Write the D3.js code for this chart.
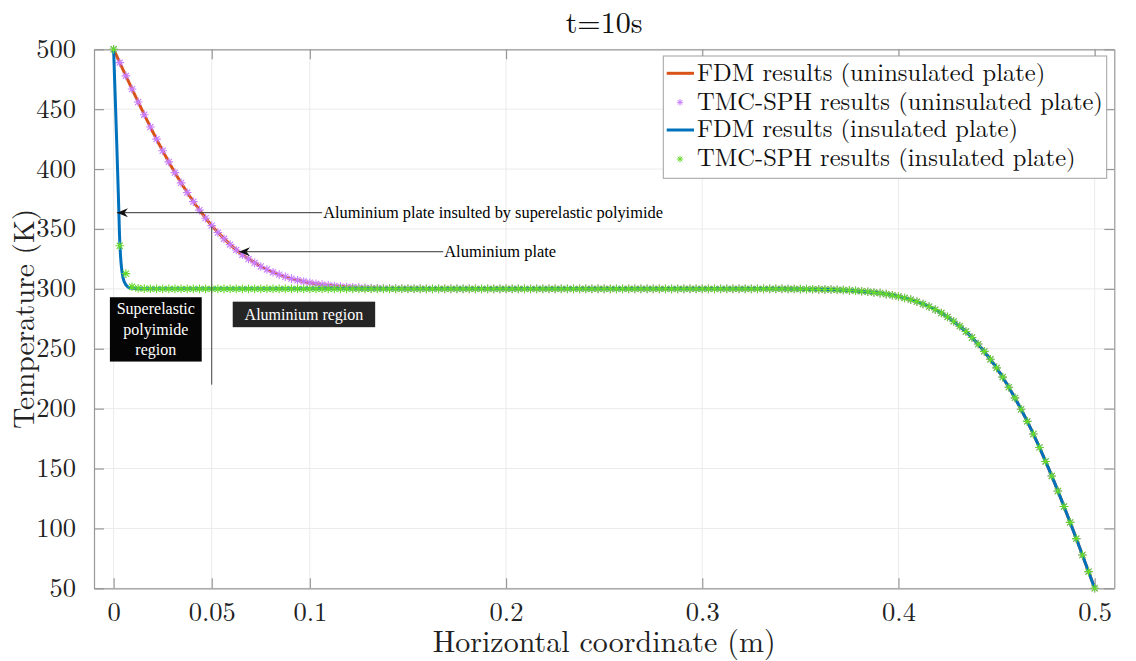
<!DOCTYPE html>
<html><head><meta charset="utf-8">
<script src="https://cdn.jsdelivr.net/npm/d3@7"></script>
<style>
html,body{margin:0;padding:0;background:#fff;}
svg{display:block;}
</style></head>
<body>
<svg id="chart" width="1136" height="661"></svg>
<script>
// ---------------- DATA ----------------
const xTicks = [0, 0.05, 0.1, 0.2, 0.3, 0.4, 0.5];
const xTickLabels = ["0", "0.05", "0.1", "0.2", "0.3", "0.4", "0.5"];
const yTicks = [50, 100, 150, 200, 250, 300, 350, 400, 450, 500];

const seriesNames = [
  "FDM results (uninsulated plate)",
  "TMC-SPH results (uninsulated plate)",
  "FDM results (insulated plate)",
  "TMC-SPH results (insulated plate)"
];

// FDM, uninsulated plate
const fdmUnX = [0,0.005,0.01,0.015,0.02,0.025,0.03,0.035,0.04,0.045,0.05,0.055,0.06,0.065,0.07,0.075,0.08,0.085,0.09,0.095,0.1,0.105,0.11,0.115,0.12,0.125,0.13,0.14,0.15,0.16,0.2,0.25,0.3,0.34,0.35,0.36,0.37,0.375,0.38,0.385,0.39,0.395,0.4,0.405,0.41,0.415,0.42,0.425,0.43,0.435,0.44,0.445,0.45,0.455,0.46,0.465,0.47,0.475,0.48,0.485,0.49,0.495,0.5];
const fdmUnT = [500,482.2,464.6,447.5,431,415.3,400.5,386.9,374.4,363.1,352.8,344,336.1,329.2,323.8,318.8,314.8,311.5,308.8,306.7,305.1,303.8,302.8,302.1,301.5,301.1,300.7,300.3,300.1,300,300,300,300,300,299.8,299.6,299.1,298.6,298.1,297.4,296.5,295.3,293.7,291.6,289,285.7,281.6,276.5,270.3,263.5,254.9,245,234,221.2,207,191.4,174.4,155.9,136.3,115.6,94.3,72.2,50];

// FDM, insulated plate
const fdmInX = [0,0.0005,0.001,0.0015,0.002,0.0025,0.003,0.0035,0.004,0.0045,0.005,0.006,0.007,0.008,0.01,0.012,0.015,0.05,0.1,0.2,0.3,0.34,0.35,0.36,0.37,0.375,0.38,0.385,0.39,0.395,0.4,0.405,0.41,0.415,0.42,0.425,0.43,0.435,0.44,0.445,0.45,0.455,0.46,0.465,0.47,0.475,0.48,0.485,0.49,0.495,0.5];
const fdmInT = [500,475,451,426,400,374,345,328,318,312,308,304,302,301,300.4,300.1,300,300,300,300,300,300,299.8,299.6,299.1,298.6,298.1,297.4,296.5,295.3,293.7,291.6,289,285.7,281.6,276.5,270.3,263.5,254.9,245,234,221.2,207,191.4,174.4,155.9,136.3,115.6,94.3,72.2,50];

// TMC-SPH particles (uniform particle spacing along the plate)
const sphSpacing = 0.003125;
const sphUnT = [
  500,488.9,477.8,466.8,456.0,445.4,435.1,425.0,415.3,406.0,
  397.0,388.5,380.4,372.8,365.7,359.0,352.8,347.0,341.8,336.9,
  332.5,328.5,324.9,321.7,318.7,316.2,313.9,311.9,310.1,308.5,
  307.2,306.1,305.1,304.2,303.5,302.9,302.4,301.9,301.6,301.3,
  301.0,300.8,300.6,300.5,300.4,300.3,300.2,300.2,300.1,300.1,
  300.1,
  300,300,300,300,300,300,300,300,300,300,
  300,300,300,300,300,300,300,300,300,300,
  300,300,300,300,300,300,300,300,300,300,
  300,300,300,300,300,300,300,300,300,300,
  300,300,300,300,300,300,300,300,300,300,
  300,300,300,300,300,300,300,300,300,
  299.9,299.9,299.8,299.8,299.7,299.6,299.5,299.4,299.2,299.0,
  298.7,298.4,298.0,297.6,297.0,296.4,295.6,294.7,293.6,292.4,
  291.0,289.3,287.4,285.2,282.7,279.8,276.6,272.9,268.9,264.4,
  259.4,253.9,247.8,241.2,234.0,226.3,217.9,209.0,199.5,189.4,
  178.8,167.6,155.9,143.8,131.2,118.3,105.0,91.5,77.8,63.9,
  50
];
const sphInT = [
  500,336,312.7,301.8,300.5,300.2,300.1,
  300,300,300,300,300,300,300,300,300,300,
  300,300,300,300,300,300,300,300,300,300,
  300,300,300,300,300,300,300,300,300,300,
  300,300,300,300,300,300,300,300,300,300,
  300,300,300,300,300,300,300,300,300,300,
  300,300,300,300,300,300,300,300,300,300,
  300,300,300,300,300,300,300,300,300,300,
  300,300,300,300,300,300,300,300,300,300,
  300,300,300,300,300,300,300,300,300,300,
  300,300,300,300,300,300,300,300,300,300,
  300,300,300,
  299.9,299.9,299.8,299.8,299.7,299.6,299.5,299.4,299.2,299.0,
  298.7,298.4,298.0,297.6,297.0,296.4,295.6,294.7,293.6,292.4,
  291.0,289.3,287.4,285.2,282.7,279.8,276.6,272.9,268.9,264.4,
  259.4,253.9,247.8,241.2,234.0,226.3,217.9,209.0,199.5,189.4,
  178.8,167.6,155.9,143.8,131.2,118.3,105.0,91.5,77.8,63.9,
  50
];

// annotation texts and anchors (data coordinates)
const arrowTexts = ["Aluminium plate insulted by superelastic polyimide", "Aluminium plate"];
const arrowFrom = [[0.1063, 363.6], [0.168, 331]];
const arrowTo = [[0.0017, 363.6], [0.0639, 331]];
const markerLine = [[0.05, 352], [0.05, 220]];
const boxLines = [["Superelastic", "polyimide", "region"], ["Aluminium region"]];
const boxCorners = [[[-0.0019, 293], [0.0449, 239.3]], [[0.0607, 289.3], [0.1333, 268]]];

// ---------------- CHART ----------------
const W = 1136, H = 661;
const M = {left: 94, top: 49.3, right: 1136 - 1114.3, bottom: 661 - 588.3};
const svg = d3.select("#chart");
const CM = '"Latin Modern Roman", "CMU Serif", "Liberation Serif", serif';
const TIMES = '"Liberation Serif", "Times New Roman", serif';
const colors = {red: "#D95319", blue: "#0072BD", mag: "#c77dff", green: "#66d92a", axis: "#989898", grid: "#ebebeb"};

// scale a text's font size so that its width matches a target
function fit(sel, target) {
  sel.each(function() {
    const fs = parseFloat(this.getAttribute("font-size"));
    const w = this.getComputedTextLength();
    if (w > 0) this.setAttribute("font-size", (fs * target / w).toFixed(2));
  });
  return sel;
}

const x = d3.scaleLinear().domain([-0.01, 0.51]).range([M.left, W - M.right]);
const y = d3.scaleLinear().domain([50, 500]).range([H - M.bottom, M.top]);

// grid
const g = svg.append("g");
g.append("g").selectAll("line").data(xTicks).join("line")
  .attr("x1", d => x(d)).attr("x2", d => x(d)).attr("y1", y(50)).attr("y2", y(500))
  .attr("stroke", colors.grid).attr("stroke-width", 1);
g.append("g").selectAll("line").data(yTicks).join("line")
  .attr("y1", d => y(d)).attr("y2", d => y(d)).attr("x1", x(-0.01)).attr("x2", x(0.51))
  .attr("stroke", colors.grid).attr("stroke-width", 1);

// axes
const tickLen = 10;
const axB = d3.axisBottom(x).tickValues(xTicks).tickFormat((d, i) => xTickLabels[i]).tickSizeInner(-tickLen).tickSizeOuter(0).tickPadding(12);
const axT = d3.axisTop(x).tickValues(xTicks).tickFormat("").tickSizeInner(-tickLen).tickSizeOuter(0);
const axL = d3.axisLeft(y).tickValues(yTicks).tickSizeInner(-tickLen).tickSizeOuter(0).tickPadding(18);
const axR = d3.axisRight(y).tickValues(yTicks).tickFormat("").tickSizeInner(-tickLen).tickSizeOuter(0);

function styleAxis(sel) {
  sel.attr("font-family", null).attr("font-size", null);
  sel.selectAll("path.domain").attr("stroke", colors.axis).attr("stroke-width", 1.2);
  sel.selectAll(".tick line").attr("stroke", colors.axis).attr("stroke-width", 1.2);
  sel.selectAll(".tick text").style("font-family", CM).attr("font-size", 26.5).attr("fill", "#222");
}
svg.append("g").attr("transform", `translate(0,${y(50)})`).call(axB).call(styleAxis)
  .selectAll(".tick text").attr("dy", "0.8em");
svg.append("g").attr("transform", `translate(0,${y(500)})`).call(axT).call(styleAxis);
svg.append("g").attr("transform", `translate(${x(-0.01)},0)`).call(axL).call(styleAxis)
  .selectAll(".tick text").attr("dy", "0.3em");
svg.append("g").attr("transform", `translate(${x(0.51)},0)`).call(axR).call(styleAxis);

const plot = svg.append("g");

const line = d3.line().x(d => x(d[0])).y(d => y(d[1])).curve(d3.curveMonotoneX);
const starPath = r => {
  const k = r * 0.7071;
  return `M${-r},0H${r}M0,${-r}V${r}M${-k},${-k}L${k},${k}M${-k},${k}L${k},${-k}`;
};

const unFdm = fdmUnX.map((v, i) => [v, fdmUnT[i]]);
const inFdm = fdmInX.map((v, i) => [v, fdmInT[i]]);
const unSph = sphUnT.map((t, i) => [i * sphSpacing, t]);
const inSph = sphInT.map((t, i) => [i * sphSpacing, t]);

plot.append("path").datum(unFdm).attr("d", line).attr("fill", "none")
  .attr("stroke", colors.red).attr("stroke-width", 3);
plot.append("g").selectAll("path").data(unSph).join("path")
  .attr("transform", d => `translate(${x(d[0])},${y(d[1])})`)
  .attr("d", starPath(4.3)).attr("stroke", colors.mag).attr("stroke-width", 1.1).attr("fill", "none");
plot.append("path").datum(inFdm).attr("d", line).attr("fill", "none")
  .attr("stroke", colors.blue).attr("stroke-width", 3);
plot.append("g").selectAll("path").data(inSph).join("path")
  .attr("transform", d => `translate(${x(d[0])},${y(d[1])})`)
  .attr("d", starPath(4.3)).attr("stroke", colors.green).attr("stroke-width", 1.1).attr("fill", "none");

// ---------- annotations ----------
const defs = svg.append("defs");
defs.append("marker").attr("id", "ah").attr("viewBox", "-12 -6 14 12")
  .attr("markerWidth", 14).attr("markerHeight", 12).attr("refX", 0).attr("refY", 0)
  .attr("orient", "auto").attr("markerUnits", "userSpaceOnUse")
  .append("path").attr("d", "M0,0L-11,-4.5L-7.5,0L-11,4.5Z").attr("fill", "#111");

const annoSizes = [340, 112];
arrowTexts.forEach((t, i) => {
  svg.append("line")
    .attr("x1", x(arrowFrom[i][0])).attr("y1", y(arrowFrom[i][1]))
    .attr("x2", x(arrowTo[i][0])).attr("y2", y(arrowTo[i][1]))
    .attr("stroke", "#333").attr("stroke-width", 1).attr("marker-end", "url(#ah)");
  svg.append("text").attr("x", x(arrowFrom[i][0]) + 1).attr("y", y(arrowFrom[i][1]))
    .attr("dy", "0.32em").style("font-family", TIMES).attr("font-size", 15.5)
    .attr("fill", "#000").text(t).call(fit, annoSizes[i]);
});
svg.append("line")
  .attr("x1", x(markerLine[0][0])).attr("y1", y(markerLine[0][1]))
  .attr("x2", x(markerLine[1][0])).attr("y2", y(markerLine[1][1]))
  .attr("stroke", "#444").attr("stroke-width", 1);

const boxFill = ["#050505", "#252525"];
boxLines.forEach((lines, i) => {
  const [p0, p1] = boxCorners[i];
  const x0 = x(p0[0]), x1 = x(p1[0]), y0 = y(p0[1]), y1 = y(p1[1]);
  svg.append("rect").attr("x", x0).attr("y", y0).attr("width", x1 - x0).attr("height", y1 - y0)
    .attr("fill", boxFill[i]);
  const lh = 20.5;
  const cy = (y0 + y1) / 2;
  lines.forEach((s, j) => {
    svg.append("text").attr("x", (x0 + x1) / 2)
      .attr("y", cy + (j - (lines.length - 1) / 2) * lh)
      .attr("dy", "0.33em").attr("text-anchor", "middle")
      .style("font-family", TIMES).attr("font-size", 16).attr("fill", "#fff").text(s);
  });
});

// ---------- title & labels ----------
svg.append("text").attr("x", (x(-0.01) + x(0.51)) / 2).attr("y", 33).attr("text-anchor", "middle")
  .style("font-family", CM).attr("font-size", 27).attr("fill", "#111").text("t=10s").call(fit, 77);
svg.append("text").attr("x", (x(-0.01) + x(0.51)) / 2).attr("y", 652).attr("text-anchor", "middle")
  .style("font-family", CM).attr("font-size", 29).attr("fill", "#222")
  .text("Horizontal coordinate (m)").call(fit, 343);
svg.append("text").attr("transform", `translate(34,${(y(50) + y(500)) / 2}) rotate(-90)`)
  .attr("text-anchor", "middle").style("font-family", CM).attr("font-size", 29).attr("fill", "#222")
  .text("Temperature (K)").call(fit, 220);

// ---------- legend ----------
const lg = svg.append("g");
const lx0 = 663.3, ly0 = 56, lx1 = 1106.7, ly1 = 178.3;
lg.append("rect").attr("x", lx0).attr("y", ly0).attr("width", lx1 - lx0).attr("height", ly1 - ly0)
  .attr("fill", "#fff").attr("stroke", "#a0a0a0").attr("stroke-width", 1);
const rowY = [73.3, 102.3, 130, 159];
const kinds = [["line", colors.red], ["star", colors.mag], ["line", colors.blue], ["star", colors.green]];
const legendTexts = [];
seriesNames.forEach((name, i) => {
  const [k, c] = kinds[i];
  if (k === "line") {
    lg.append("line").attr("x1", 666.7).attr("x2", 694).attr("y1", rowY[i]).attr("y2", rowY[i])
      .attr("stroke", c).attr("stroke-width", 3);
  } else {
    lg.append("path").attr("transform", `translate(680,${rowY[i]})`).attr("d", starPath(3.2))
      .attr("stroke", c).attr("stroke-width", 1).attr("fill", "none");
  }
  legendTexts.push(lg.append("text").attr("x", 697).attr("y", rowY[i]).attr("dy", "0.3em")
    .style("font-family", CM).attr("font-size", 25).attr("fill", "#111").text(name));
});
// size legend font so the longest entry spans its measured width
fit(legendTexts[1], 1103 - 697);
const lfs = legendTexts[1].attr("font-size");
legendTexts.forEach(t => t.attr("font-size", lfs));
</script>
</body></html>
